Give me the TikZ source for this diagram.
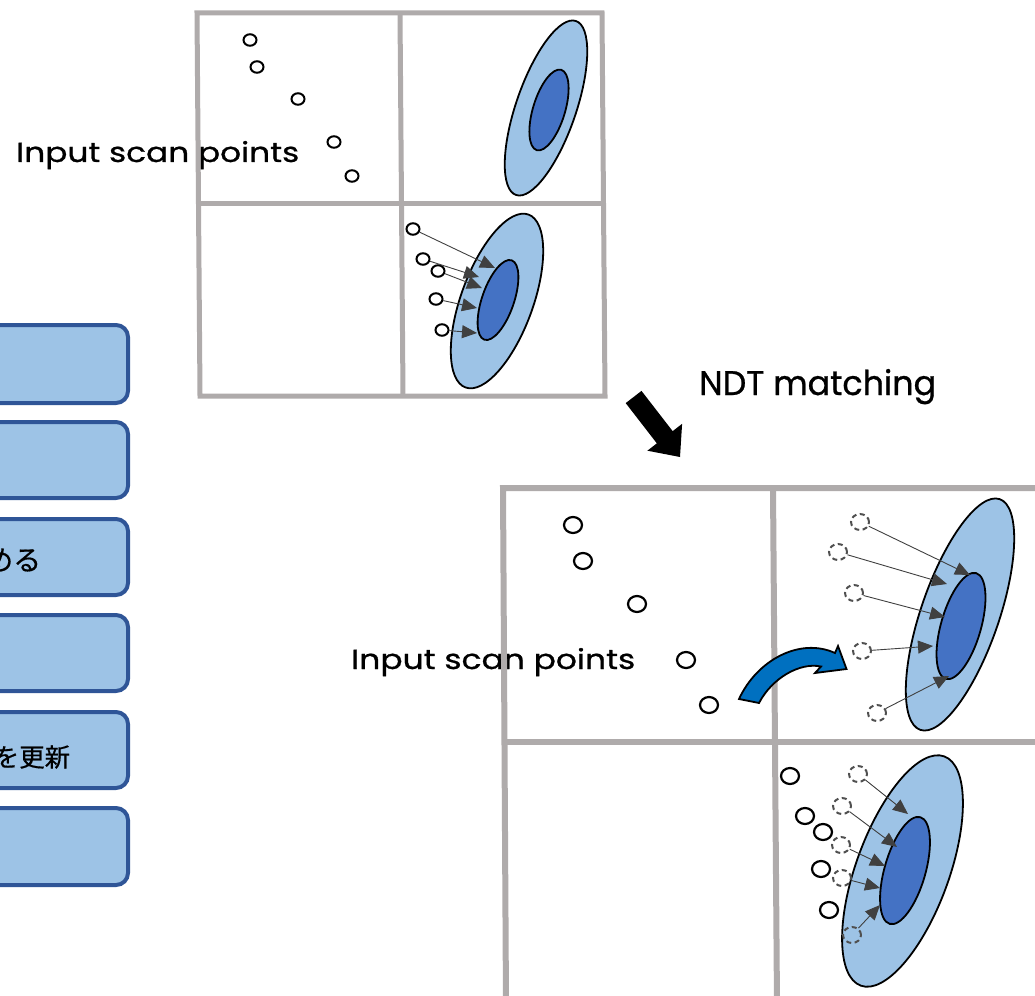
\documentclass[tikz,border=0pt]{standalone}
\usepackage{fontspec}
\newfontfamily\jp{Noto Sans CJK JP}[FakeBold=0.5]
\newfontfamily\lat{Poppins}[FakeBold=0.8]
\usetikzlibrary{arrows.meta,shapes.geometric}
\definecolor{gridgray}{HTML}{AFABAB}
\definecolor{lblue}{HTML}{9DC3E6}
\definecolor{dblue}{HTML}{4472C4}
\definecolor{boxborder}{HTML}{2F5597}
\definecolor{arrowgray}{HTML}{404040}
\definecolor{dashgray}{HTML}{505050}
\definecolor{curveblue}{HTML}{0070C0}
\begin{document}
\begin{tikzpicture}[x=1pt,y=-1pt,
  gridA/.style={draw=gridgray,line width=5pt},
  gridB/.style={draw=gridgray,line width=6pt},
  stepbox/.style={draw=boxborder,fill=lblue,line width=4pt,rounded corners=12pt},
  outerell/.style={draw=black,fill=lblue,line width=1.8pt},
  innerell/.style={draw=black,fill=dblue,line width=1.8pt},
  ptA/.style={ellipse,draw=black,line width=2pt,minimum width=13pt,minimum height=11.5pt,inner sep=0pt},
  ptB/.style={ellipse,draw=black,line width=2.2pt,minimum width=18pt,minimum height=16pt,inner sep=0pt},
  ptD/.style={ellipse,draw=dashgray,line width=2pt,dash pattern=on 5pt off 3.5pt,minimum width=18pt,minimum height=16pt,inner sep=0pt},
  vec/.style={draw=arrowgray,line width=0.9pt,-{Triangle[length=15pt,width=13pt]}},
  lab/.style={anchor=base west,inner sep=0pt}
]
\useasboundingbox (0,0) rectangle (1035,995);
\clip (0,0) rectangle (1035,995);

% ---------------- left step boxes ----------------
\draw[stepbox] (-60,325) rectangle (128,403);
\draw[stepbox] (-60,422) rectangle (128,498);
\draw[stepbox] (-60,519) rectangle (128,595);
\draw[stepbox] (-60,615) rectangle (128,691);
\draw[stepbox] (-60,712) rectangle (128,788);
\draw[stepbox] (-60,808) rectangle (128,885);
\node[anchor=west,inner sep=0pt] (j1) at (-15,560) {\jp\fontsize{28pt}{28pt}\selectfont める};
\node[anchor=west,inner sep=0pt] (j2) at (-6.5,757) {\jp\fontsize{25.5pt}{25.5pt}\selectfont を更新};

% ---------------- texts (behind grid lines) ----------------
\node[lab] (lt) at (16,162) {\resizebox{283pt}{21pt}{\lat Input scan points}};
\node[lab] (lb) at (351,669) {\resizebox{284pt}{21pt}{\lat Input scan points}};
\node[lab] (ndt) at (699,395) {\resizebox{237pt}{26pt}{\lat NDT matching}};

% ---------------- top grid ----------------
\draw[gridA] (197,13) -- (602,13) -- (605,396) -- (200,396) -- cycle;
\draw[gridA] (400,13) -- (403,396);
\draw[gridA] (198,203) -- (603,203);

% ---------------- bottom grid ----------------
\draw[gridB] (1045,488) -- (503,488) -- (506,1005);
\draw[gridB] (773,488) -- (777,1005);
\draw[gridB] (504,742) -- (1045,742);

% ---------------- top grid ellipses ----------------
\draw[outerell,rotate around={-19:(546,108)}] (546,108) ellipse [x radius=30, y radius=92];
\draw[innerell,rotate around={-17:(549,110)}] (549,110) ellipse [x radius=16, y radius=42];
\draw[outerell,rotate around={-20:(497,301)}] (497,301) ellipse [x radius=36, y radius=92];
\draw[innerell,rotate around={-19:(498,300)}] (498,300) ellipse [x radius=16, y radius=42];

% ---------------- bottom grid ellipses ----------------
\draw[outerell,rotate around={-19:(960,614.5)}] (960,614.5) ellipse [x radius=39, y radius=122];
\draw[innerell,rotate around={-16:(961,626)}] (961,626) ellipse [x radius=20, y radius=55];
\draw[outerell,rotate around={-20:(902.5,871)}] (902.5,871) ellipse [x radius=46.5, y radius=122];
\draw[innerell,rotate around={-16:(905,870.5)}] (905,870.5) ellipse [x radius=20.5, y radius=55.5];

% ---------------- top grid points ----------------
\node[ptA] (tp1) at (250,40) {};
\node[ptA] (tp2) at (257,67) {};
\node[ptA] (tp3) at (298,99) {};
\node[ptA] (tp4) at (334,142) {};
\node[ptA] (tp5) at (352,176) {};

\node[ptA] (ta1) at (413,229) {};
\node[ptA] (ta2) at (423,259) {};
\node[ptA] (ta3) at (438,271) {};
\node[ptA] (ta4) at (436,299) {};
\node[ptA] (ta5) at (442,330) {};
\coordinate (tt1) at (495,268);
\coordinate (tt2) at (479,277);
\coordinate (tt3) at (482,288);
\coordinate (tt4) at (477,308);
\coordinate (tt5) at (477,333);
\foreach \i in {1,...,5} \draw[vec] (ta\i) -- (tt\i);

% ---------------- bottom grid points ----------------
\node[ptB] (bp1) at (573,525) {};
\node[ptB] (bp2) at (583,561) {};
\node[ptB] (bp3) at (637,604) {};
\node[ptB] (bp4) at (686,660) {};
\node[ptB] (bp5) at (709,705) {};

\node[ptD] (bd1) at (860,522) {};
\node[ptD] (bd2) at (838,552) {};
\node[ptD] (bd3) at (854,593) {};
\node[ptD] (bd4) at (862,651) {};
\node[ptD] (bd5) at (877,713) {};
\coordinate (bt1) at (970,575);
\coordinate (bt2) at (947,584);
\coordinate (bt3) at (945,617);
\coordinate (bt4) at (933,646);
\coordinate (bt5) at (949,676);
\foreach \i in {1,...,5} \draw[vec] (bd\i) -- (bt\i);

\node[ptB] (bs1) at (790,776) {};
\node[ptB] (bs2) at (805,816) {};
\node[ptB] (bs3) at (823,832) {};
\node[ptB] (bs4) at (821,869) {};
\node[ptB] (bs5) at (829,910) {};

\node[ptD] (bq1) at (858,774) {};
\node[ptD] (bq2) at (842,806) {};
\node[ptD] (bq3) at (841,845) {};
\node[ptD] (bq4) at (842,878) {};
\node[ptD] (bq5) at (852,935) {};
\coordinate (bu1) at (908,814);
\coordinate (bu2) at (897,847);
\coordinate (bu3) at (885,866);
\coordinate (bu4) at (880,888);
\coordinate (bu5) at (880,905);
\foreach \i in {1,...,5} \draw[vec] (bq\i) -- (bu\i);

% ---------------- black block arrow ----------------
\fill[black] (625.7,403.1) -- (656.85,443.35) -- (647.4,450.7) -- (680,457)
  -- (682.1,423.8) -- (672.65,431.15) -- (641.5,390.9) -- cycle;

% ---------------- blue curved arrow ----------------
\draw[fill=curveblue,draw=black,line width=1.8pt,line join=miter]
  (739,699) .. controls (757,660) and (800,637) .. (835,653)
  -- (838,646) -- (846.5,669) -- (815,673) -- (821,666.5)
  .. controls (800,662) and (772,678) .. (759,703) -- cycle;
\end{tikzpicture}
\end{document}
